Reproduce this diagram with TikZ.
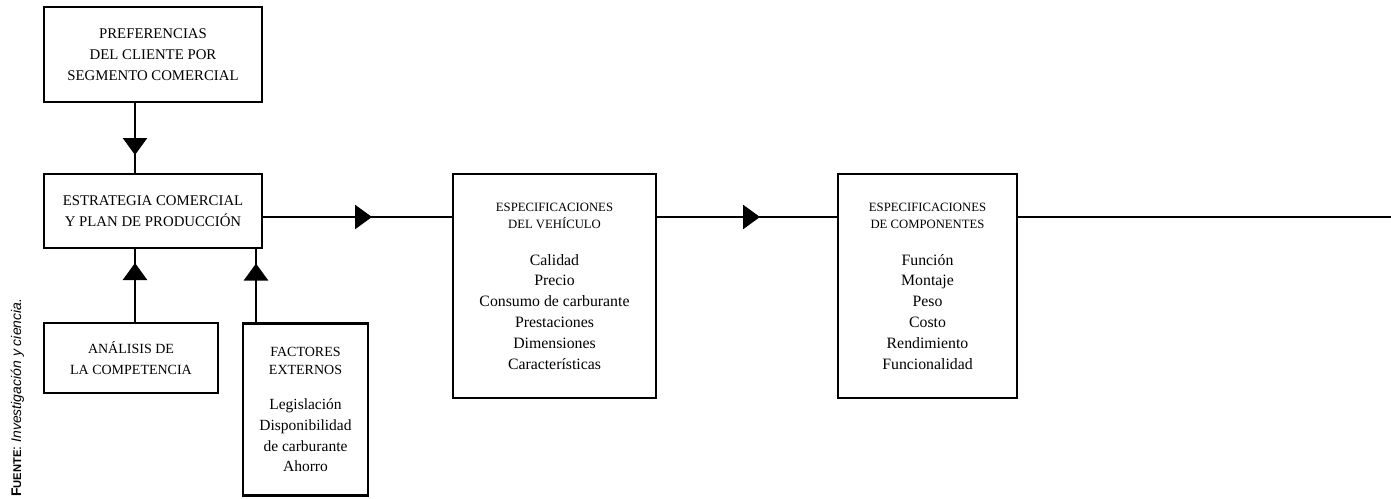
\documentclass[tikz,border=0pt]{standalone}
\usepackage{fontspec}
\setmainfont{Liberation Serif}
\setsansfont{Liberation Sans}
\usetikzlibrary{positioning,arrows.meta,decorations.markings}

\newcommand{\hdr}[1]{{\fontsize{12.7}{17}\selectfont #1}}
\newcommand{\subhdr}[1]{{\fontsize{14}{18}\selectfont #1}}

\begin{document}
\begin{tikzpicture}[x=1pt,y=-1pt,
    tipat/.style={postaction={decorate},decoration={markings,
        mark=at position #1 with {\arrow{Triangle[length=17pt,width=24pt]}}}}]
    \tikzstyle{block}=[draw, line width=2.5pt, inner sep=0pt, outer sep=0pt, align=center, font=\fontsize{14.8}{21.3}\selectfont]
    \tikzstyle{small}=[block, font=\fontsize{14}{20.5}\selectfont]
    \tikzstyle{spec}=[block, font=\fontsize{15.8}{20.8}\selectfont, minimum height=224pt]
    \tikzstyle{link}=[line width=2.5pt]
    \useasboundingbox (0,0) rectangle (1391,498);

    \coordinate (lcol) at (135,0);
    \coordinate (rcol) at (256,0);
    \coordinate (row) at (0,217);
    \coordinate (out) at (1391,217);

    \node[block, minimum width=218pt, minimum height=95pt] (pref) at (153,54.5) {PREFERENCIAS\\DEL CLIENTE POR\\SEGMENTO COMERCIAL};
    \node[block, minimum width=218pt, minimum height=74pt] (estr) at (153,211) {ESTRATEGIA COMERCIAL\\Y PLAN DE PRODUCCIÓN};
    \node[small, minimum width=174pt, minimum height=70pt] (anal) at (131,358) {ANÁLISIS DE\\LA COMPETENCIA};
    \node[spec, minimum width=125pt, minimum height=172pt, font=\fontsize{15.5}{20.8}\selectfont] (fact) at (305.5,409.5) {\subhdr{FACTORES}\\[-2.5pt]\subhdr{EXTERNOS}\\[14pt]Legislación\\Disponibilidad\\de carburante\\Ahorro};
    \node[spec, minimum width=203pt] (veh) at (554.5,286) {\hdr{ESPECIFICACIONES}\\[-3.5pt]\hdr{DEL VEHÍCULO}\\[16pt]Calidad\\Precio\\Consumo de carburante\\Prestaciones\\Dimensiones\\Características};
    \node[spec, minimum width=179pt] (comp) at (927.5,286) {\hdr{ESPECIFICACIONES}\\[-3.5pt]\hdr{DE COMPONENTES}\\[16pt]Función\\Montaje\\Peso\\Costo\\Rendimiento\\Funcionalidad};

    \node[rotate=90, anchor=base west, inner sep=0pt, font=\sffamily\fontsize{14}{14}\selectfont] (src) at (21,497) {{\bfseries F\fontsize{11.2}{11.2}\selectfont UENTE}: \textit{Investigación y ciencia.}};

    \draw[link, tipat=53pt] (pref.south -| lcol) -- (estr.north -| lcol);
    \draw[link, tipat=60pt] (anal.north -| lcol) -- (estr.south -| lcol);
    \draw[link, tipat=60pt] (fact.north -| rcol) -- (estr.south -| rcol);
    \draw[link, tipat=110pt] (estr.east |- row) -- (veh.west |- row);
    \draw[link, tipat=104pt] (veh.east |- row) -- (comp.west |- row);
    \draw[link] (comp.east |- row) -- (out);
\end{tikzpicture}
\end{document}
